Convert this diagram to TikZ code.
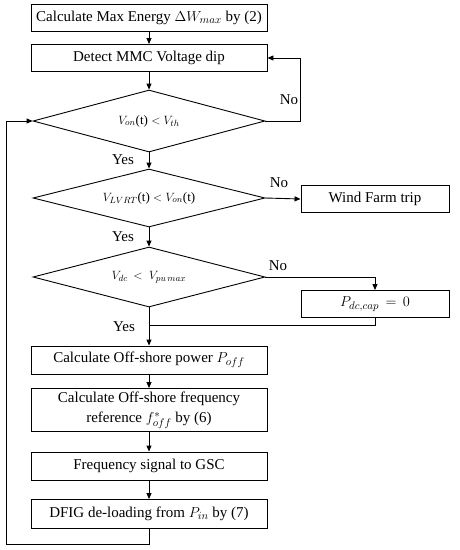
\documentclass[tikz,border=0pt]{standalone}
\usepackage{fontspec}
\setmainfont{Liberation Serif}
\usetikzlibrary{shapes.geometric,arrows.meta}
\begin{document}
\begin{tikzpicture}[x=1pt,y=1pt,
  every path/.style={line width=0.9pt},
  >={Triangle[length=6pt,width=5pt]},
  boxn/.style={draw,rectangle,inner sep=0pt,align=center,font=\fontsize{15}{17.5}\selectfont},
  decn/.style={draw,diamond,inner sep=0pt,aspect=3.8,minimum width=232pt,font=\fontsize{13}{15}\selectfont},
  lab/.style={font=\fontsize{15}{17}\selectfont,inner sep=0pt}]
\useasboundingbox (0,0) rectangle (459,-550);
\node[boxn,minimum width=236pt,minimum height=27pt] (b1) at (149,-18) {Calculate Max Energy $\Delta W_{max}$ by (2)};
\node[boxn,minimum width=236pt,minimum height=27pt] (b2) at (149,-58) {Detect MMC Voltage dip};
\node[decn,minimum height=62pt] (d1) at (149,-121) {$V_{on}$(t) $<$ $V_{th}$};
\node[decn,minimum height=58pt] (d2) at (149,-198) {$V_{LVRT}$(t) $<$ $V_{on}$(t)};
\node[boxn,minimum width=148pt,minimum height=27pt] (wf) at (375,-199) {Wind Farm trip};
\node[decn,minimum height=60pt] (d3) at (149,-277) {$V_{dc}\,<\;V_{pu\,max}$};
\node[boxn,minimum width=148pt,minimum height=27pt] (pdc) at (375,-304) {$P_{dc,cap}\,=\,0$};
\node[boxn,minimum width=236pt,minimum height=28pt] (poff) at (149,-360) {Calculate Off-shore power $P_{off}$};
\node[boxn,minimum width=236pt,minimum height=43pt,font=\fontsize{15}{19}\selectfont] (fref) at (149,-410) {Calculate Off-shore frequency\\[1pt]reference $f^{*}_{off}$ by (6)};
\node[boxn,minimum width=236pt,minimum height=28pt] (gsc) at (149,-466) {Frequency signal to GSC};
\node[boxn,minimum width=236pt,minimum height=29pt] (dfig) at (149,-514) {DFIG de-loading from $P_{in}$ by (7)};

\coordinate (r1) at (300,-121);
\coordinate (j3) at (149,-325);
\coordinate (lb) at (6,-544);

\draw[->] (b1.south) -- (b2.north);
\draw[->] (b2.south) -- (d1.north);
\draw[->] (d1.east) -- (r1) |- (b2.east);
\draw[->] (d1.south) -- (d2.north);
\draw[->] (d2.east) -- (wf.west);
\draw[->] (d2.south) -- (d3.north);
\draw[->] (d3.east) -| (pdc.north);
\draw (pdc.south) |- (j3);
\draw[->] (d3.south) -- (poff.north);
\draw[->] (poff.south) -- (fref.north);
\draw[->] (fref.south) -- (gsc.north);
\draw[->] (gsc.south) -- (dfig.north);
\draw[->] (dfig.south) |- (lb) |- (d1.west);

\node[lab] (n1) at (289,-100) {No};
\node[lab] (y1) at (123,-160) {Yes};
\node[lab] (n2) at (279,-183) {No};
\node[lab] (y2) at (123,-237) {Yes};
\node[lab] (n3) at (278,-266) {No};
\node[lab] (y3) at (124,-327) {Yes};
\end{tikzpicture}
\end{document}
